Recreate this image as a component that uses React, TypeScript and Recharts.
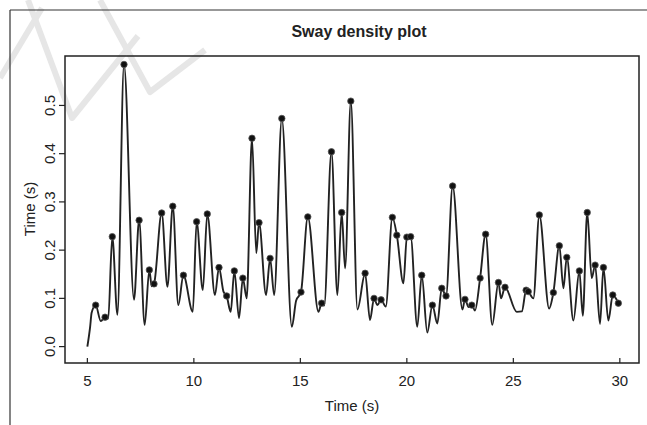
import React from 'react';
import {
  ComposedChart,
  Line,
  XAxis,
  YAxis,
  ReferenceArea,
} from 'recharts';

// sample times (s)
const times = [
  5.0, 5.13, 5.2, 5.39, 5.63, 5.83, 5.98, 6.17, 6.41, 6.72,
  7.19, 7.43, 7.69, 7.91, 8.02, 8.13, 8.49, 8.76, 9.01, 9.27,
  9.51, 9.95, 10.13, 10.42, 10.63, 10.99, 11.18, 11.39, 11.54, 11.73,
  11.9, 12.12, 12.3, 12.48, 12.73, 12.93, 13.06, 13.39, 13.58, 13.77,
  14.13, 14.6, 14.8, 15.03, 15.35, 15.85, 16.0, 16.12, 16.46, 16.74,
  16.94, 17.1, 17.37, 17.68, 18.04, 18.27, 18.46, 18.62, 18.79, 19.01,
  19.32, 19.53, 19.84, 20.0, 20.18, 20.49, 20.7, 20.96, 21.2, 21.43,
  21.64, 21.84, 22.15, 22.61, 22.73, 22.9, 23.05, 23.2, 23.44, 23.7,
  24.01, 24.3, 24.42, 24.61, 25.16, 25.4, 25.6, 25.7, 25.94, 26.22,
  26.68, 26.88, 27.16, 27.35, 27.51, 27.82, 28.1, 28.26, 28.47, 28.68,
  28.84, 29.07, 29.23, 29.46, 29.67, 29.93,
];

// sway density values
const values = [
  0.0, 0.041, 0.07, 0.086, 0.053, 0.061, 0.058, 0.228, 0.066, 0.585,
  0.097, 0.262, 0.045, 0.159, 0.125, 0.13, 0.277, 0.124, 0.291, 0.086,
  0.148, 0.072, 0.259, 0.117, 0.275, 0.107, 0.164, 0.114, 0.105, 0.072,
  0.157, 0.059, 0.142, 0.1, 0.432, 0.194, 0.257, 0.107, 0.183, 0.107,
  0.473, 0.041, 0.095, 0.113, 0.269, 0.072, 0.09, 0.085, 0.404, 0.107,
  0.278, 0.162, 0.509, 0.077, 0.152, 0.055, 0.1, 0.086, 0.097, 0.083,
  0.268, 0.231, 0.131, 0.227, 0.228, 0.041, 0.148, 0.029, 0.086, 0.048,
  0.121, 0.105, 0.333, 0.077, 0.098, 0.082, 0.086, 0.075, 0.142, 0.233,
  0.045, 0.133, 0.1, 0.123, 0.072, 0.073, 0.117, 0.114, 0.1, 0.273,
  0.079, 0.112, 0.209, 0.121, 0.185, 0.054, 0.157, 0.064, 0.278, 0.142,
  0.169, 0.047, 0.164, 0.054, 0.107, 0.09,
];

// 1 = marked peak
const peakFlags = [
  0, 0, 0, 1, 0, 1, 0, 1, 0, 1,
  0, 1, 0, 1, 0, 1, 1, 0, 1, 0,
  1, 0, 1, 0, 1, 0, 1, 0, 1, 0,
  1, 0, 1, 0, 1, 0, 1, 0, 1, 0,
  1, 0, 0, 1, 1, 0, 1, 0, 1, 0,
  1, 0, 1, 0, 1, 0, 1, 0, 1, 0,
  1, 1, 0, 1, 1, 0, 1, 0, 1, 0,
  1, 1, 1, 0, 1, 0, 1, 0, 1, 1,
  0, 1, 0, 1, 0, 0, 1, 1, 0, 1,
  0, 1, 1, 0, 1, 0, 1, 0, 1, 0,
  1, 0, 1, 0, 1, 1,
];

const xTicks = [5, 10, 15, 20, 25, 30];
const yTicks = [0, 0.1, 0.2, 0.3, 0.4, 0.5];

const data = times.map((t, i) => ({ t, v: values[i], peak: peakFlags[i] === 1 }));

const FONT = '"Liberation Sans", Arial, sans-serif';
const INK = '#222';

const XTick = (props: any) => {
  const { x, y, payload } = props;
  return (
    <g>
      <line x1={x} x2={x} y1={y - 5} y2={y} stroke={INK} strokeWidth={1.2} />
      <text x={x} y={y + 23} textAnchor="middle" fontSize={15} fill={INK} fontFamily={FONT}>
        {payload.value}
      </text>
    </g>
  );
};

const YTick = (props: any) => {
  const { x, y, payload } = props;
  const tx = x - 4;
  return (
    <text
      x={tx}
      y={y}
      transform={`rotate(-90 ${tx} ${y})`}
      textAnchor="middle"
      fontSize={15}
      fill={INK}
      fontFamily={FONT}
    >
      {payload.value.toFixed(1)}
    </text>
  );
};

const PeakDot = (props: any) => {
  const { cx, cy, payload, index } = props;
  if (!payload.peak) return <g key={`d-${index}`} />;
  return <circle key={`d-${index}`} cx={cx} cy={cy} r={3.2} fill="#111" stroke="#555" strokeWidth={0.8} />;
};

export default function App() {
  return (
    <div style={{ position: 'absolute', left: 0, top: 0, width: 647, height: 425, background: '#fff' }}>
      <svg width={647} height={425} style={{ position: 'absolute', left: 0, top: 0 }}>
        <g stroke="#e6e6e6" strokeWidth={6} fill="none" strokeLinejoin="round">
          <polyline points="0,78 42,8" />
          <polyline points="28,0 72,118 138,36" />
          <polyline points="100,0 150,92 205,50" />
        </g>
        <line x1={10} y1={10} x2={647} y2={10} stroke="#333" strokeWidth={1.2} />
        <line x1={10} y1={10} x2={10} y2={425} stroke="#333" strokeWidth={1.2} />
        <text x={359} y={37} textAnchor="middle" fontSize={16} fontWeight="bold" fill={INK} fontFamily={FONT}>
          Sway density plot
        </text>
        <text x={352} y={411} textAnchor="middle" fontSize={15} fill={INK} fontFamily={FONT}>
          Time (s)
        </text>
        <text
          x={35}
          y={209}
          transform="rotate(-90 35 209)"
          textAnchor="middle"
          fontSize={15}
          fill={INK}
          fontFamily={FONT}
        >
          Time (s)
        </text>
      </svg>
      <div style={{ position: 'absolute', left: 0, top: 0 }}>
        <ComposedChart
          width={647}
          height={425}
          data={data}
          margin={{ top: 56, right: 8, bottom: 0, left: 0 }}
        >
          <XAxis
            dataKey="t"
            type="number"
            domain={[3.95, 30.9]}
            ticks={xTicks}
            allowDataOverflow
            height={62}
            axisLine={false}
            tickLine={false}
            tickSize={0}
            tickMargin={0}
            tick={<XTick />}
            interval={0}
          />
          <YAxis
            type="number"
            domain={[-0.034, 0.6025]}
            ticks={yTicks}
            allowDataOverflow
            width={65}
            axisLine={false}
            tickLine={{ stroke: INK, strokeWidth: 1.2 }}
            tickSize={6}
            tickMargin={0}
            tick={<YTick />}
            interval={0}
          />
          <ReferenceArea
            x1={3.95}
            x2={30.9}
            y1={-0.034}
            y2={0.6025}
            fill="none"
            stroke={INK}
            strokeWidth={1.5}
            ifOverflow="visible"
          />
          <Line
            type="monotone"
            dataKey="v"
            stroke={INK}
            strokeWidth={1.9}
            dot={PeakDot}
            activeDot={false}
            isAnimationActive={false}
          />
        </ComposedChart>
      </div>
    </div>
  );
}
